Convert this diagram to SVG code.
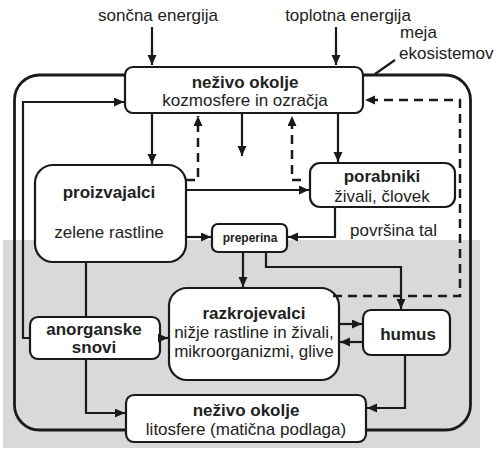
<svg xmlns="http://www.w3.org/2000/svg" width="498" height="451" viewBox="0 0 498 451">
<style>
  .box { fill: #ffffff; stroke: #1a1a1a; stroke-width: 2.2; }
  .ln { fill: none; stroke: #1a1a1a; stroke-width: 2.2; }
  .dash { fill: none; stroke: #1a1a1a; stroke-width: 2.5; stroke-dasharray: 9 6; }
  .bnd { fill: none; stroke: #1a1a1a; stroke-width: 2.8; }
  text { font-family: "Liberation Sans", Arial, sans-serif; fill: #222222; font-size: 17px; text-anchor: middle; }
  .b { font-weight: bold; }
  .l { text-anchor: start; }
</style>
<defs>
  <marker id="ah" markerUnits="userSpaceOnUse" markerWidth="11" markerHeight="10" refX="10" refY="4.5" orient="auto">
    <path d="M0,0 L10,4.5 L0,9 z" fill="#1a1a1a"/>
  </marker>
</defs>
<rect x="0" y="0" width="498" height="451" fill="#ffffff"/>
<rect x="3" y="240" width="477" height="208" fill="#d9d9d9"/>
<g id="boundary">
  <rect class="bnd" x="14.5" y="75" width="456" height="355" rx="25"/>
</g>
<g id="labels">
  <text x="158" y="21">sončna energija</text>
  <text x="348" y="21">toplotna energija</text>
  <text class="l" x="400" y="38">meja</text>
  <text class="l" x="399" y="59">ekosistemov</text>
  <text class="l" x="350" y="236">površina tal</text>
</g>
<g id="node-kozmosfera">
  <rect class="box" x="125" y="67" width="238" height="46" rx="8"/>
  <text class="b" x="245" y="88">neživo okolje</text>
  <text x="245" y="106">kozmosfere in ozračja</text>
</g>
<g id="node-proizvajalci">
  <rect class="box" x="35" y="165" width="151" height="97" rx="18"/>
  <text class="b" x="109" y="198">proizvajalci</text>
  <text x="109" y="238">zelene rastline</text>
</g>
<g id="node-porabniki">
  <rect class="box" x="310" y="163" width="145" height="44" rx="10"/>
  <text class="b" x="382" y="182">porabniki</text>
  <text x="382" y="202">živali, človek</text>
</g>
<g id="node-preperina">
  <rect class="box" x="212" y="224" width="75" height="28" rx="6"/>
  <text class="b" x="250" y="242" style="font-size:12px">preperina</text>
</g>
<g id="node-razkrojevalci">
  <rect class="box" x="169" y="288" width="170" height="92" rx="18"/>
  <text class="b" x="254" y="319">razkrojevalci</text>
  <text x="254" y="338">nižje rastline in živali,</text>
  <text x="254" y="357">mikroorganizmi, glive</text>
</g>
<g id="node-anorganske">
  <rect class="box" x="30" y="317" width="130" height="42" rx="8"/>
  <text class="b" x="94" y="335">anorganske</text>
  <text class="b" x="94" y="353">snovi</text>
</g>
<g id="node-humus">
  <rect class="box" x="363" y="310" width="87" height="45" rx="8"/>
  <text class="b" x="408" y="340">humus</text>
</g>
<g id="node-litosfera">
  <rect class="box" x="126" y="395" width="240" height="47" rx="8"/>
  <text class="b" x="246" y="416">neživo okolje</text>
  <text x="246" y="435">litosfere (matična podlaga)</text>
</g>
<g id="connectors">
  <path class="ln" d="M152,27 V65" marker-end="url(#ah)"/>
  <path class="ln" d="M336,27 V65" marker-end="url(#ah)"/>
  <path class="ln" d="M30,338 H23 V102 H124" marker-end="url(#ah)"/>
  <path class="ln" d="M152,113 V164" marker-end="url(#ah)"/>
  <path class="ln" d="M242,113 V156" marker-end="url(#ah)"/>
  <path class="ln" d="M338,113 V162" marker-end="url(#ah)"/>
  <path class="dash" d="M186,180 H198 V116" marker-end="url(#ah)"/>
  <path class="dash" d="M301,180 H292 V116" marker-end="url(#ah)"/>
  <path class="ln" d="M186,190 H309" marker-end="url(#ah)"/>
  <path class="ln" d="M186,237 H211" marker-end="url(#ah)"/>
  <path class="ln" d="M335,207 V237 H288" marker-end="url(#ah)"/>
  <path class="ln" d="M243,252 V287" marker-end="url(#ah)"/>
  <path class="ln" d="M266,252 V267 H401 V309" marker-end="url(#ah)"/>
  <path class="dash" d="M333,296 H460 V100 H365" marker-end="url(#ah)"/>
  <path class="ln" d="M86,262 V317"/>
  <path class="ln" d="M160,338 H168" marker-end="url(#ah)"/>
  <path class="ln" d="M86,359 V413 H125" marker-end="url(#ah)"/>
  <path class="ln" d="M339,324 H362" marker-end="url(#ah)"/>
  <path class="ln" d="M363,342 H340" marker-end="url(#ah)"/>
  <path class="ln" d="M405,355 V408 H367" marker-end="url(#ah)"/>
  <path class="ln" d="M375,74 L395,60"/>
</g>
</svg>
